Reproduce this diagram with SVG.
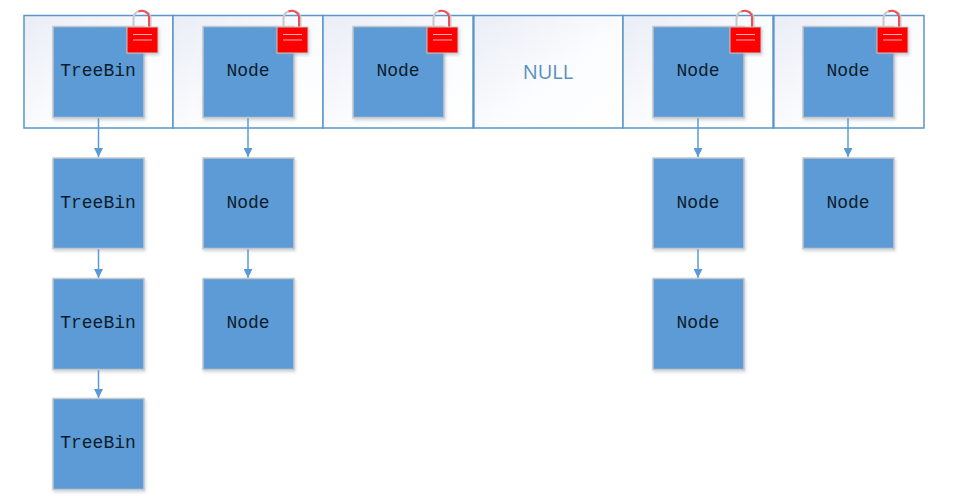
<svg xmlns="http://www.w3.org/2000/svg" width="957" height="502" viewBox="0 0 957 502">
<defs>
<linearGradient id="cellFill" x1="0" y1="0" x2="1" y2="1"><stop offset="0" stop-color="#e9edf6"/><stop offset="0.55" stop-color="#fbfcfe"/><stop offset="1" stop-color="#ffffff"/></linearGradient>
<filter id="sh" x="-10%" y="-10%" width="125%" height="125%"><feDropShadow dx="1" dy="2" stdDeviation="1.5" flood-color="#8a9ab0" flood-opacity="0.4"/></filter>
<marker id="arr" markerUnits="userSpaceOnUse" markerWidth="10" markerHeight="9" refX="9" refY="4.5" orient="auto"><path d="M0 0L9 4.5L0 9z" fill="#5b9bd5"/></marker>
<g id="lock">
<path d="M-10.500 0V-8.500C-10.500-19 6.500-19 6.500-8.500V0" fill="none" stroke="#c8c8c8" stroke-width="2"/>
<path d="M-5.500-15.500C-1-17.500 4-15 5-10.500V0" fill="none" stroke="#f0505a" stroke-width="2"/>
<rect x="-17" y="0" width="31" height="26" fill="#ff0000" stroke="#c8c8c8" stroke-width="1" filter="url(#sh)"/>
<path d="M-11 7.500H8M-11 13H8" stroke="#ffb0b0" stroke-width="1.200"/>
</g>
</defs>
<style>
.cell{fill:url(#cellFill);stroke:#5b96c8;stroke-width:1.500}
.box{fill:#5b9bd5;stroke:#c4c8cc;stroke-width:1.500;filter:url(#sh)}
.t{font-family:"Liberation Mono",monospace;font-size:18px;fill:#0d1c2c;text-anchor:middle}
.null{font-family:"Open Sans","Noto Sans",sans-serif;font-size:20px;fill:#5b8fbf;text-anchor:middle}
.c{stroke:#5b9bd5;stroke-width:1.500;fill:none;marker-end:url(#arr)}
</style>
<rect width="957" height="502" fill="#ffffff"/>
<g id="array">
<rect class="cell" x="24" y="15.500" width="149" height="112.500"/>
<rect class="cell" x="173" y="15.500" width="150" height="112.500"/>
<rect class="cell" x="323" y="15.500" width="150.500" height="112.500"/>
<rect class="cell" x="473.500" y="15.500" width="149.500" height="112.500" style="stroke-width:1.500"/>
<rect class="cell" x="623" y="15.500" width="150.500" height="112.500"/>
<rect class="cell" x="773.500" y="15.500" width="150.500" height="112.500"/>
<path d="M473.500 15.500V128M773.500 15.500V128" stroke="#5b96c8" stroke-width="2"/>
<text class="null" x="548" y="79">NULL</text>
</g>
<g id="connectors">
<path class="c" d="M98.500 118V157"/>
<path class="c" d="M98.500 249V278"/>
<path class="c" d="M98.500 370V398"/>
<path class="c" d="M248 118V157"/>
<path class="c" d="M248 249V278"/>
<path class="c" d="M698 118V157"/>
<path class="c" d="M698 249V278"/>
<path class="c" d="M848 118V157"/>
</g>
<g id="n1"><rect class="box" x="53" y="26.500" width="91" height="91"/><text class="t" x="98" y="76">TreeBin</text></g>
<g id="n2"><rect class="box" x="53" y="158" width="91" height="90.500"/><text class="t" x="98" y="208">TreeBin</text></g>
<g id="n3"><rect class="box" x="53" y="278.500" width="91" height="91"/><text class="t" x="98" y="328">TreeBin</text></g>
<g id="n4"><rect class="box" x="53" y="398.500" width="91" height="91"/><text class="t" x="98" y="448">TreeBin</text></g>
<g id="n5"><rect class="box" x="203" y="26.500" width="91" height="91"/><text class="t" x="248" y="76">Node</text></g>
<g id="n6"><rect class="box" x="203" y="158" width="91" height="90.500"/><text class="t" x="248" y="208">Node</text></g>
<g id="n7"><rect class="box" x="203" y="278.500" width="91" height="91"/><text class="t" x="248" y="328">Node</text></g>
<g id="n8"><rect class="box" x="353" y="26.500" width="91" height="91"/><text class="t" x="398" y="76">Node</text></g>
<g id="n9"><rect class="box" x="653" y="26.500" width="91" height="91"/><text class="t" x="698" y="76">Node</text></g>
<g id="n10"><rect class="box" x="653" y="158" width="91" height="90.500"/><text class="t" x="698" y="208">Node</text></g>
<g id="n11"><rect class="box" x="653" y="278.500" width="91" height="91"/><text class="t" x="698" y="328">Node</text></g>
<g id="n12"><rect class="box" x="803" y="26.500" width="91" height="91"/><text class="t" x="848" y="76">Node</text></g>
<g id="n13"><rect class="box" x="803" y="158" width="91" height="90.500"/><text class="t" x="848" y="208">Node</text></g>
<g id="locks">
<use href="#lock" x="144" y="27"/>
<use href="#lock" x="294" y="27"/>
<use href="#lock" x="444" y="27"/>
<use href="#lock" x="747" y="27"/>
<use href="#lock" x="894" y="27"/>
</g>
</svg>
